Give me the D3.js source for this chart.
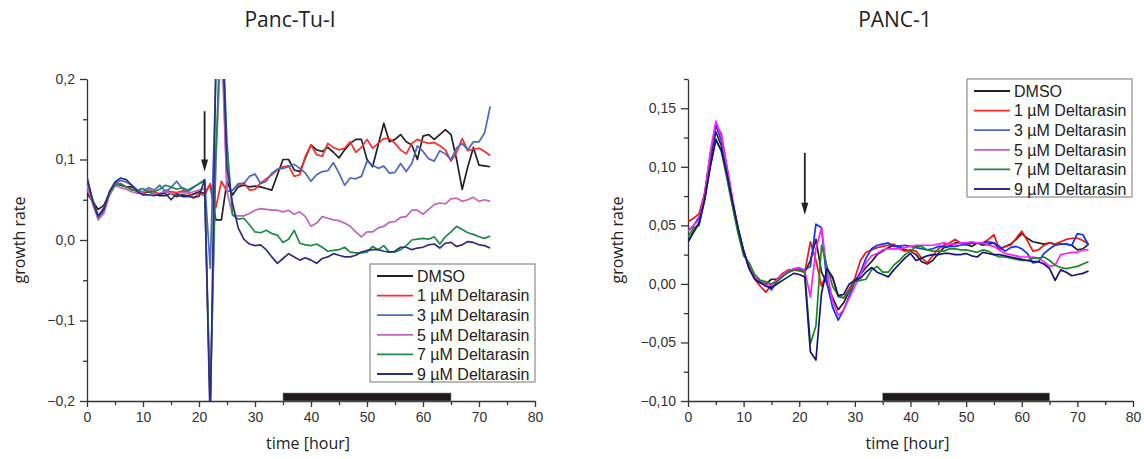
<!doctype html>
<html>
<head>
	<meta charset="utf-8">
	<title>growth rate</title>
	<script src="https://cdnjs.cloudflare.com/ajax/libs/d3/7.8.5/d3.min.js"></script>
	<style>
		body { margin: 0; background: #fff; }
		svg { font-family: "Liberation Sans", Arial, sans-serif; }
		.tick text { fill: #333; font-size: 14px; }
		.axis path, .axis line { stroke: #333; stroke-width: 1.3; }
		.title { font-family: "Open Sans", sans-serif; }
	</style>
</head>
<body>
<script>
	// time points (hours)
	var hours = d3.range(0, 73);
	var seriesNames = ['DMSO', '1 µM Deltarasin', '3 µM Deltarasin', '5 µM Deltarasin', '7 µM Deltarasin', '9 µM Deltarasin'];

	// Panc-Tu-I
	var tuDmso = [0.058, 0.048, 0.038, 0.043, 0.058, 0.07, 0.068, 0.066, 0.066, 0.062,
		0.058, 0.06, 0.057, 0.055, 0.055, 0.058, 0.054, 0.056, 0.055, 0.057,
		0.06, 0.058, 0.069, 0.025, 0.025, 0.073, 0.056, 0.066, 0.068, 0.066,
		0.067, 0.066, 0.064, 0.062, 0.081, 0.1, 0.1, 0.087, 0.085, 0.102,
		0.118, 0.112, 0.11, 0.115, 0.109, 0.102, 0.112, 0.12, 0.125, 0.125,
		0.1, 0.091, 0.118, 0.145, 0.122, 0.125, 0.131, 0.122, 0.118, 0.1,
		0.129, 0.131, 0.125, 0.131, 0.137, 0.131, 0.1, 0.063, 0.091, 0.115,
		0.093, 0.092, 0.091];
	var tu1 = [0.062, 0.05, 0.03, 0.04, 0.057, 0.068, 0.07, 0.066, 0.063, 0.06,
		0.058, 0.062, 0.06, 0.057, 0.062, 0.06, 0.059, 0.061, 0.06, 0.052,
		0.058, 0.055, 0.07, 0.04, 0.073, 0.06, 0.062, 0.068, 0.071, 0.062,
		0.063, 0.071, 0.076, 0.081, 0.087, 0.091, 0.092, 0.079, 0.081, 0.104,
		0.118, 0.106, 0.104, 0.12, 0.115, 0.112, 0.114, 0.122, 0.109, 0.115,
		0.125, 0.114, 0.12, 0.126, 0.126, 0.12, 0.112, 0.107, 0.12, 0.125,
		0.122, 0.12, 0.121, 0.117, 0.112, 0.098, 0.109, 0.126, 0.111, 0.113,
		0.114, 0.11, 0.105];
	var tu3 = [0.075, 0.05, 0.028, 0.035, 0.058, 0.07, 0.074, 0.072, 0.068, 0.062,
		0.06, 0.065, 0.062, 0.068, 0.06, 0.065, 0.073, 0.064, 0.06, 0.065,
		0.07, 0.075, -0.035, 0.2, 0.28, 0.06, 0.062, 0.07, 0.07, 0.079,
		0.082, 0.07, 0.073, 0.083, 0.088, 0.089, 0.091, 0.094, 0.089, 0.083,
		0.073, 0.081, 0.085, 0.086, 0.096, 0.083, 0.068, 0.077, 0.076, 0.079,
		0.098, 0.093, 0.089, 0.092, 0.083, 0.084, 0.095, 0.085, 0.095, 0.117,
		0.11, 0.101, 0.098, 0.111, 0.107, 0.1, 0.114, 0.12, 0.112, 0.122,
		0.122, 0.133, 0.166];
	var tu5 = [0.068, 0.045, 0.025, 0.033, 0.055, 0.068, 0.065, 0.063, 0.06, 0.058,
		0.06, 0.062, 0.057, 0.058, 0.06, 0.058, 0.057, 0.059, 0.058, 0.06,
		0.062, 0.064, -0.2, 0.1, 0.25, 0.06, 0.031, 0.03, 0.03, 0.033,
		0.037, 0.039, 0.038, 0.037, 0.037, 0.035, 0.037, 0.032, 0.035, 0.029,
		0.017, 0.021, 0.029, 0.027, 0.025, 0.024, 0.021, 0.017, 0.01, 0.004,
		0.01, 0.01, 0.015, 0.017, 0.022, 0.023, 0.028, 0.029, 0.037, 0.037,
		0.032, 0.038, 0.044, 0.046, 0.045, 0.051, 0.052, 0.048, 0.05, 0.053,
		0.048, 0.05, 0.048];
	var tu7 = [0.077, 0.05, 0.028, 0.04, 0.058, 0.068, 0.07, 0.066, 0.062, 0.062,
		0.064, 0.06, 0.06, 0.063, 0.068, 0.066, 0.063, 0.065, 0.062, 0.066,
		0.07, 0.073, -0.21, 0.1, 0.3, 0.12, 0.031, 0.026, 0.027, 0.019,
		0.01, 0.009, 0.012, 0.008, 0.006, -0.003, 0.001, 0.012, -0.004, -0.006,
		-0.007, -0.005, -0.009, -0.014, -0.013, -0.012, -0.009, -0.015, -0.016, -0.016,
		-0.015, -0.008, -0.012, -0.007, -0.015, -0.015, -0.012, -0.007, 0.0, 0.001,
		0.002, 0.001, 0.004, -0.005, 0.004, 0.01, 0.017, 0.013, 0.009, 0.007,
		0.004, 0.002, 0.005];
	var tu9 = [0.078, 0.048, 0.03, 0.038, 0.06, 0.072, 0.077, 0.075, 0.068, 0.06,
		0.056, 0.056, 0.055, 0.057, 0.058, 0.05, 0.057, 0.054, 0.054, 0.053,
		0.054, 0.075, -0.23, 0.22, 0.3, 0.09, 0.045, 0.015, 0.001, -0.005,
		-0.007, -0.006, -0.012, -0.021, -0.029, -0.023, -0.017, -0.021, -0.025, -0.022,
		-0.025, -0.029, -0.023, -0.021, -0.017, -0.019, -0.021, -0.021, -0.019, -0.015,
		-0.013, -0.012, -0.012, -0.014, -0.015, -0.014, -0.009, -0.009, -0.012, -0.01,
		-0.009, -0.006, -0.005, -0.01, -0.004, -0.003, -0.008, -0.006, -0.002, -0.003,
		-0.006, -0.007, -0.01];

	// PANC-1
	var pDmso = [0.036, 0.045, 0.052, 0.075, 0.105, 0.13, 0.118, 0.092, 0.068, 0.046,
		0.028, 0.014, 0.005, 0.002, 0.0, 0.004, 0.004, 0.007, 0.01, 0.012,
		0.012, 0.01, 0.02, 0.038, 0.01, 0.0, -0.012, -0.022, -0.016, -0.006,
		0.003, 0.008, 0.014, 0.019, 0.025, 0.028, 0.031, 0.033, 0.032, 0.029,
		0.028, 0.025, 0.019, 0.017, 0.02, 0.026, 0.031, 0.032, 0.035, 0.035,
		0.034, 0.032, 0.035, 0.033, 0.034, 0.035, 0.03, 0.032, 0.034, 0.038,
		0.043, 0.039, 0.036, 0.035, 0.034, 0.035, 0.034, 0.034, 0.034, 0.033,
		0.029, 0.03, 0.034];
	var p1 = [0.053, 0.056, 0.06, 0.078, 0.11, 0.136, 0.128, 0.1, 0.072, 0.046,
		0.028, 0.013, 0.004, -0.002, -0.007, -0.001, 0.004, 0.009, 0.012, 0.012,
		0.011, 0.01, 0.036, 0.02, -0.002, 0.01, 0.005, -0.011, -0.012, -0.004,
		0.005, 0.02, 0.027, 0.029, 0.031, 0.032, 0.033, 0.034, 0.03, 0.028,
		0.029, 0.028, 0.022, 0.018, 0.024, 0.03, 0.033, 0.035, 0.038, 0.035,
		0.033, 0.035, 0.035, 0.035, 0.038, 0.042, 0.029, 0.032, 0.033, 0.039,
		0.045, 0.037, 0.028, 0.029, 0.033, 0.035, 0.034, 0.036, 0.038, 0.039,
		0.039, 0.037, 0.034];
	var p3 = [0.045, 0.05, 0.057, 0.076, 0.11, 0.136, 0.122, 0.098, 0.07, 0.047,
		0.028, 0.014, 0.005, 0.001, -0.001, -0.005, 0.002, 0.007, 0.01, 0.012,
		0.013, 0.012, 0.015, 0.051, 0.048, 0.0, -0.02, -0.031, -0.022, -0.01,
		0.002, 0.01, 0.022, 0.03, 0.033, 0.034, 0.035, 0.032, 0.032, 0.033,
		0.032, 0.031, 0.03, 0.029, 0.03, 0.032, 0.032, 0.032, 0.032, 0.033,
		0.034, 0.035, 0.035, 0.035, 0.036, 0.035, 0.032, 0.028, 0.031, 0.032,
		0.03, 0.026, 0.018, 0.019, 0.026, 0.03, 0.033, 0.034, 0.034, 0.033,
		0.043, 0.042, 0.033];
	var p5 = [0.045, 0.05, 0.055, 0.077, 0.112, 0.139, 0.126, 0.1, 0.072, 0.047,
		0.028, 0.014, 0.005, 0.002, -0.001, 0.0, 0.003, 0.008, 0.011, 0.013,
		0.014, 0.011, -0.011, 0.03, 0.048, 0.01, -0.015, -0.027, -0.022, -0.012,
		-0.002, 0.008, 0.018, 0.024, 0.026, 0.029, 0.03, 0.03, 0.03, 0.031,
		0.032, 0.033, 0.033, 0.033, 0.033, 0.034, 0.035, 0.034, 0.034, 0.035,
		0.035, 0.036, 0.035, 0.035, 0.033, 0.032, 0.029, 0.026, 0.025, 0.024,
		0.023, 0.023, 0.023, 0.022, 0.019, 0.015, 0.016, 0.025, 0.026, 0.027,
		0.027, 0.029, 0.029];
	var p7 = [0.04, 0.048, 0.05, 0.072, 0.1, 0.124, 0.113, 0.09, 0.066, 0.043,
		0.024, 0.018, 0.008, 0.003, 0.002, 0.0, 0.002, 0.006, 0.01, 0.012,
		0.012, 0.01, -0.051, -0.036, 0.033, 0.015, -0.002, -0.01, -0.012, -0.006,
		0.002, 0.003, 0.004, 0.012, 0.015, 0.01, 0.01, 0.016, 0.02, 0.025,
		0.028, 0.032, 0.032, 0.029, 0.028, 0.028, 0.028, 0.03, 0.03, 0.029,
		0.029, 0.028, 0.027, 0.029, 0.028, 0.025, 0.023, 0.023, 0.022, 0.021,
		0.02, 0.02, 0.022, 0.022, 0.023, 0.02, 0.016, 0.014, 0.013, 0.014,
		0.015, 0.017, 0.019];
	var p9 = [0.036, 0.044, 0.052, 0.072, 0.1, 0.123, 0.114, 0.094, 0.07, 0.048,
		0.028, 0.013, 0.004, 0.001, -0.002, -0.003, 0.0, 0.003, 0.006, 0.009,
		0.008, 0.006, -0.058, -0.065, -0.008, 0.013, 0.006, -0.01, -0.009, 0.0,
		0.003, 0.005, 0.01, 0.014, 0.01, 0.008, 0.006, 0.012, 0.017, 0.022,
		0.026, 0.02, 0.022, 0.024, 0.025, 0.025, 0.026, 0.026, 0.025, 0.025,
		0.026, 0.024, 0.023, 0.027, 0.026, 0.025, 0.025, 0.024, 0.023, 0.022,
		0.021, 0.02, 0.019, 0.019, 0.017, 0.013, 0.003, 0.012, 0.01, 0.007,
		0.008, 0.009, 0.011];

	var tuColors = ['#222222', '#ff2a2a', '#4a68c4', '#c463c0', '#1e8a48', '#2e2e86'];
	var pColors = ['#222222', '#ff1010', '#1030ff', '#ff20ff', '#1a8a1a', '#14147e'];
	var legendColors = tuColors;

	var tuTicks = [-0.2, -0.1, 0, 0.1, 0.2];
	var pTicks = [-0.1, -0.05, 0, 0.05, 0.1, 0.15];
	var xTicks = [0, 10, 20, 30, 40, 50, 60, 70, 80];

	// treatment arrow (hour, from, to) and measuring window
	var tuArrow = [21, 0.16, 0.085];
	var pArrow = [21, 0.112, 0.059];
	var windowHours = [35, 65];

	var W = 1144, H = 459;
	var svg = d3.select('body').append('svg')
		.attr('width', W)
		.attr('height', H);

	function comma(f) {
		return function (d) { return d3.format(f)(d).replace('.', ','); };
	}

	function drawPanel(cfg) {
		var x = d3.scaleLinear().domain([0, 80]).range([cfg.left, cfg.right]);
		var y = d3.scaleLinear().domain(cfg.yDomain).range([401, 79]);
		var g = svg.append('g');

		var clipId = 'clip-' + cfg.id;
		svg.append('defs').append('clipPath').attr('id', clipId)
			.append('rect')
			.attr('x', x(0)).attr('y', y(cfg.yDomain[1]))
			.attr('width', x(80) - x(0))
			.attr('height', y(cfg.yDomain[0]) - y(cfg.yDomain[1]));

		// minor ticks first
		var xMinor = d3.range(5, 80, 10);
		g.append('g').attr('class', 'axis')
			.attr('transform', 'translate(0,' + y(cfg.yDomain[0]) + ')')
			.call(d3.axisBottom(x).tickValues(xMinor).tickSize(4).tickFormat(''))
			.select('.domain').remove();
		g.append('g').attr('class', 'axis')
			.attr('transform', 'translate(' + x(0) + ',0)')
			.call(d3.axisLeft(y).tickValues(cfg.yMinor).tickSize(4).tickFormat(''))
			.select('.domain').remove();

		g.append('g').attr('class', 'axis')
			.attr('transform', 'translate(0,' + y(cfg.yDomain[0]) + ')')
			.call(d3.axisBottom(x).tickValues(xTicks).tickSizeInner(6).tickSizeOuter(0).tickPadding(5));
		g.append('g').attr('class', 'axis')
			.attr('transform', 'translate(' + x(0) + ',0)')
			.call(d3.axisLeft(y).tickValues(cfg.yTicks).tickSizeInner(7).tickSizeOuter(0).tickPadding(5)
				.tickFormat(comma(cfg.fmt)));

		// measuring window bar
		g.append('rect')
			.attr('x', x(windowHours[0]))
			.attr('y', y(cfg.yDomain[0]) - 8)
			.attr('width', x(windowHours[1]) - x(windowHours[0]))
			.attr('height', 8)
			.attr('fill', '#1e1a1a')
			.attr('stroke', '#888')
			.attr('stroke-width', 0.6);

		var line = d3.line()
			.x(function (d, i) { return x(hours[i]); })
			.y(function (d) { return y(d); });

		g.append('g').attr('clip-path', 'url(#' + clipId + ')')
			.selectAll('path')
			.data(cfg.series)
			.enter()
			.append('path')
			.attr('d', line)
			.attr('fill', 'none')
			.attr('stroke', function (d, i) { return cfg.colors[i]; })
			.attr('stroke-width', 1.7)
			.attr('stroke-linejoin', 'round');

		// arrow
		var ax = x(cfg.arrow[0]), ay0 = y(cfg.arrow[1]), ay1 = y(cfg.arrow[2]);
		g.append('line')
			.attr('x1', ax).attr('x2', ax)
			.attr('y1', ay0).attr('y2', ay1 - 8)
			.attr('stroke', '#222').attr('stroke-width', 1.8);
		g.append('path')
			.attr('d', 'M' + (ax - 3.5) + ',' + (ay1 - 12) + 'L' + (ax + 3.5) + ',' + (ay1 - 12) + 'L' + ax + ',' + ay1 + 'Z')
			.attr('fill', '#222');

		// titles
		svg.append('text')
			.attr('class', 'title')
			.attr('x', cfg.titleX).attr('y', 27)
			.attr('text-anchor', 'middle')
			.attr('font-size', 21)
			.attr('fill', '#222')
			.text(cfg.title);
		svg.append('text')
			.attr('class', 'title')
			.attr('x', (x(0) + x(80)) / 2 - 3).attr('y', 449)
			.attr('text-anchor', 'middle')
			.attr('font-size', 16)
			.attr('fill', '#222')
			.text('time [hour]');
		svg.append('text')
			.attr('class', 'title')
			.attr('transform', 'translate(' + cfg.yLabelX + ',240) rotate(-90)')
			.attr('text-anchor', 'middle')
			.attr('font-size', 16)
			.attr('fill', '#222')
			.text('growth rate');

		// legend
		var lg = svg.append('g').attr('transform', 'translate(' + cfg.legend[0] + ',' + cfg.legend[1] + ')');
		lg.append('rect')
			.attr('x', 0).attr('y', 0)
			.attr('width', 165).attr('height', 118)
			.attr('fill', '#fff')
			.attr('stroke', '#777').attr('stroke-width', 1);
		var item = lg.selectAll('g.item')
			.data(seriesNames)
			.enter()
			.append('g')
			.attr('class', 'item')
			.attr('transform', function (d, i) { return 'translate(0,' + (12 + i * 19.6) + ')'; });
		item.append('line')
			.attr('x1', 7).attr('x2', 43)
			.attr('stroke', function (d, i) { return legendColors[i]; })
			.attr('stroke-width', 1.8);
		item.append('text')
			.attr('x', 47).attr('dy', '0.36em')
			.attr('font-size', 16)
			.attr('fill', '#222')
			.text(function (d) { return d; });
	}

	drawPanel({
		id: 'tu', title: 'Panc-Tu-I', titleX: 290,
		left: 87, right: 535,
		yDomain: [-0.2, 0.2], yTicks: tuTicks, yMinor: [-0.15, -0.05, 0.05, 0.15], fmt: '.1f',
		series: [tuDmso, tu1, tu3, tu5, tu7, tu9], colors: tuColors,
		arrow: tuArrow, yLabelX: 25, legend: [370, 264]
	});
	drawPanel({
		id: 'p', title: 'PANC-1', titleX: 895,
		left: 688, right: 1133,
		yDomain: [-0.1, 0.175], yTicks: pTicks, yMinor: [-0.075, -0.025, 0.025, 0.075, 0.125, 0.175], fmt: '.2f',
		series: [pDmso, p1, p3, p5, p7, p9], colors: pColors,
		arrow: pArrow, yLabelX: 623, legend: [967, 79]
	});
</script>
</body>
</html>
